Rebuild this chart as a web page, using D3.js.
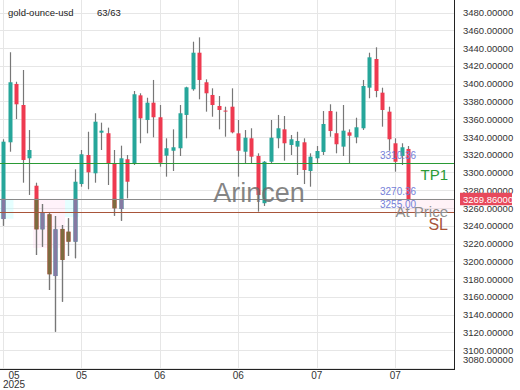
<!DOCTYPE html>
<html>
<head>
<meta charset="utf-8">
<script src="https://cdn.jsdelivr.net/npm/d3@7"></script>
<style>
body { margin: 0; background: #fff; }
text { font-family: "Liberation Sans", Arial, sans-serif; }
</style>
</head>
<body>
<div id="chart"></div>
<script>
// daily candles, gold-ounce-usd
var opens  = [3247.6,3334.0,3399.7,3376.0,3316.0,3285.1,3236.0,3252.9,3183.4,3236.4,
              3233.3,3222.1,3287.0,3319.7,3299.1,3344.8,3344.2,3309.6,3258.9,3314.9,
              3310.4,3386.9,3359.1,3378.6,3362.2,3318.9,3324.5,3327.3,3364.8,3393.7,
              3434.9,3401.6,3387.3,3374.9,3369.7,3374.1,3344.1,3323.4,3338.5,3318.6,
              3265.4,3312.1,3338.5,3348.6,3331.0,3329.1,3334.0,3301.7,3316.0,3323.1,
              3369.2,3344.2,3329.1,3345.2,3339.6,3349.8,3395.5,3427.8,3389.9,3368.5,
              3332.9,3318.6,3326.5];
var highs  = [3337.4,3435.4,3402.2,3415.4,3347.8,3288.5,3264.5,3254.1,3251.0,3240.9,
              3248.4,3303.6,3325.3,3345.9,3366.7,3356.1,3350.5,3325.3,3330.2,3319.7,
              3391.8,3389.2,3384.2,3404.2,3376.0,3338.5,3348.6,3376.0,3396.6,3447.3,
              3452.2,3404.9,3394.8,3386.1,3374.1,3394.8,3359.1,3347.8,3349.8,3321.6,
              3312.9,3359.1,3364.8,3363.6,3342.2,3345.9,3338.5,3321.6,3329.8,3369.2,
              3376.8,3368.5,3376.0,3348.6,3361.7,3404.2,3434.9,3441.0,3395.5,3374.1,
              3338.5,3332.9,3329.8];
var lows   = [3240.1,3323.4,3360.2,3288.5,3274.7,3207.1,3216.4,3167.7,3120.7,3154.5,
              3206.0,3203.4,3284.0,3281.1,3288.5,3325.3,3285.9,3251.3,3245.7,3270.9,
              3308.4,3332.9,3344.1,3339.6,3306.5,3295.3,3301.7,3318.6,3338.5,3392.1,
              3382.4,3368.5,3362.8,3348.6,3340.3,3344.1,3295.3,3310.4,3309.6,3255.9,
              3262.3,3310.4,3327.3,3313.3,3319.7,3297.2,3287.0,3284.0,3310.4,3319.7,
              3340.3,3321.6,3318.6,3309.6,3332.9,3347.9,3383.6,3384.7,3351.6,3324.5,
              3300.9,3308.4,3268.0];
var closes = [3334.7,3401.6,3376.8,3314.1,3325.3,3236.0,3254.7,3185.4,3236.0,3201.5,
              3222.1,3289.6,3320.5,3300.2,3357.2,3347.1,3309.6,3259.7,3316.0,3289.6,
              3388.1,3361.0,3378.6,3362.2,3311.0,3327.3,3328.4,3366.7,3395.9,3434.9,
              3404.2,3389.2,3376.0,3370.4,3369.0,3345.2,3324.5,3339.2,3317.8,3274.7,
              3312.1,3339.2,3349.8,3332.9,3337.4,3335.5,3302.8,3317.8,3324.2,3354.6,
              3346.7,3331.8,3347.1,3341.4,3350.9,3397.4,3429.7,3391.8,3370.4,3337.4,
              3312.1,3328.4,3269.86];

var priceTicks = d3.range(3080, 3481, 20);
var monthTickIdx = [0, 12, 24, 36, 48, 60];
var monthTickLabels = ["05", "05", "06", "06", "07", "07"];
var yearLabel = "2025";

var levelValues = [3310.36, 3270.36, 3255.00];
var levelNames  = ["TP1", "At Price", "SL"];
var levelColors = ["#2a9a35", "#8a8a8a", "#a8553a"];
var lastPrice = 3269.86;

var W = 520, H = 390, plotW = 455, plotH = 369;
var upColor = "#26a69a", downColor = "#ee3a50";
var upMuted = "#857aa3", downMuted = "#7d6b3e";

var svg = d3.select("#chart").append("svg")
    .attr("width", W).attr("height", H);

var x = d3.scaleLinear().domain([0, 62]).range([3, 408.3]);
var y = d3.scaleLinear().domain([3078.7, 3494.25]).range([plotH, 0]);

// grid
svg.append("g").selectAll("line.h")
    .data(priceTicks).enter().append("line")
    .attr("x1", 0).attr("x2", plotW)
    .attr("y1", function(d) { return Math.round(y(d)) + 0.5; })
    .attr("y2", function(d) { return Math.round(y(d)) + 0.5; })
    .attr("stroke", "#e6e6e6");
svg.append("g").selectAll("line.v")
    .data(monthTickIdx).enter().append("line")
    .attr("y1", 0).attr("y2", plotH)
    .attr("x1", function(d) { return Math.round(x(d)) + 0.5; })
    .attr("x2", function(d) { return Math.round(x(d)) + 0.5; })
    .attr("stroke", "#e6e6e6");

// faint zones near the entry level
var zones = [
  {i0: -0.5, i1: 1.6, p0: 3248, p1: 3270.36, c: "rgba(180,255,255,0.35)"},
  {i0: 4.6, i1: 9.5, p0: 3215, p1: 3270.36, c: "rgba(255,205,235,0.25)"},
  {i0: 9.5, i1: 11.6, p0: 3250, p1: 3270.36, c: "rgba(180,255,255,0.35)"},
  {i0: 60.5, i1: 70, p0: 3255, p1: 3270.36, c: "rgba(255,205,225,0.25)"}
];
svg.append("g").selectAll("rect")
    .data(zones).enter().append("rect")
    .attr("x", function(d) { return Math.max(0, x(d.i0)); })
    .attr("width", function(d) { return Math.min(plotW, x(d.i1)) - Math.max(0, x(d.i0)); })
    .attr("y", function(d) { return y(d.p1); })
    .attr("height", function(d) { return y(d.p0) - y(d.p1); })
    .attr("fill", function(d) { return d.c; });

var candles = opens.map(function(o, i) {
  return {i: i, o: o, h: highs[i], l: lows[i], c: closes[i]};
});
var bw = 4;

function drawCandles(g, up, down) {
  g.selectAll("line")
      .data(candles).enter().append("line")
      .attr("x1", function(d) { return Math.round(x(d.i)) + 0.5; })
      .attr("x2", function(d) { return Math.round(x(d.i)) + 0.5; })
      .attr("y1", function(d) { return y(d.h); })
      .attr("y2", function(d) { return y(d.l); })
      .attr("stroke", "#777").attr("stroke-width", 1.2);
  g.selectAll("rect")
      .data(candles).enter().append("rect")
      .attr("x", function(d) { return Math.round(x(d.i)) + 0.5 - bw / 2; })
      .attr("width", bw)
      .attr("y", function(d) { return y(Math.max(d.o, d.c)); })
      .attr("height", function(d) { return Math.max(1, Math.abs(y(d.o) - y(d.c))); })
      .attr("fill", function(d) { return d.c >= d.o ? up : down; });
}

drawCandles(svg.append("g"), upColor, downColor);

// blended part of early candles below the entry line
svg.append("clipPath").attr("id", "lowclip")
  .append("rect")
    .attr("x", 0).attr("width", x(18.5))
    .attr("y", y(levelValues[1])).attr("height", plotH - y(levelValues[1]));
drawCandles(svg.append("g").attr("clip-path", "url(#lowclip)"), upMuted, downMuted);

// levels
svg.append("g").selectAll("line")
    .data(levelValues).enter().append("line")
    .attr("x1", 0).attr("x2", plotW)
    .attr("y1", function(d) { return Math.round(y(d)) + 0.5; })
    .attr("y2", function(d) { return Math.round(y(d)) + 0.5; })
    .attr("stroke", function(d, i) { return levelColors[i]; })
    .attr("stroke-width", 1);

// watermark
svg.append("text")
    .attr("x", 259).attr("y", 202)
    .attr("text-anchor", "middle")
    .attr("font-size", 27)
    .attr("fill", "#6f6f6f")
    .attr("fill-opacity", 0.85)
    .text("Arincen");

// value tags for the levels
svg.append("g").selectAll("text")
    .data(levelValues).enter().append("text")
    .attr("x", 380)
    .attr("y", function(d) { return y(d) - 4; })
    .attr("font-size", 10)
    .attr("fill", "#7480d8")
    .text(function(d) { return d.toFixed(2); });

// level names
var nameDy = [17, 18, 18];
svg.append("g").selectAll("text")
    .data(levelValues).enter().append("text")
    .attr("x", 448)
    .attr("y", function(d, i) { return y(d) + nameDy[i]; })
    .attr("text-anchor", "end")
    .attr("font-size", function(d, i) { return i == 2 ? 16 : 15; })
    .attr("fill", function(d, i) { return i == 1 ? "#8f8f8f" : levelColors[i]; })
    .text(function(d, i) { return levelNames[i]; });

// price axis
var yAxis = d3.axisRight(y)
    .tickValues(priceTicks)
    .tickFormat(d3.format(".5f"))
    .tickSize(0)
    .tickPadding(8);
var ya = svg.append("g")
    .attr("transform", "translate(" + plotW + ",0)")
    .call(yAxis);
ya.select(".domain").remove();
ya.selectAll("text").attr("font-size", 9.5).attr("fill", "#333")
    .style("font-family", "'Liberation Sans', Arial, sans-serif");
ya.selectAll(".tick").filter(function(d) { return y(d) > 361; })
    .attr("transform", "translate(0,360)");

// last price tag
var lp = svg.append("g").attr("transform", "translate(0," + y(lastPrice) + ")");
lp.append("rect")
    .attr("x", 460).attr("y", -6.5).attr("width", 52).attr("height", 12.5)
    .attr("fill", "#e8495c");
lp.append("text")
    .attr("x", 463).attr("y", 3.5)
    .attr("font-size", 9.5).attr("fill", "#fff")
    .text(d3.format(".5f")(lastPrice));

// frame
svg.append("line").attr("x1", plotW - 0.5).attr("x2", plotW - 0.5)
    .attr("y1", 0).attr("y2", plotH + 0.5).attr("stroke", "#222");
svg.append("line").attr("x1", 0).attr("x2", plotW)
    .attr("y1", plotH + 0.5).attr("y2", plotH + 0.5).attr("stroke", "#222");

// time labels
svg.append("g").selectAll("text")
    .data(monthTickIdx).enter().append("text")
    .attr("x", function(d) { return Math.max(x(d), 14); })
    .attr("y", 379)
    .attr("text-anchor", "middle")
    .attr("font-size", 10).attr("fill", "#333")
    .text(function(d, i) { return monthTickLabels[i]; });
svg.append("text")
    .attr("x", 14).attr("y", 388)
    .attr("text-anchor", "middle")
    .attr("font-size", 10).attr("fill", "#333")
    .text(yearLabel);

// title
svg.append("text").attr("x", 8).attr("y", 15.5)
    .attr("font-size", 9.5).attr("fill", "#222").text("gold-ounce-usd");
svg.append("text").attr("x", 97).attr("y", 15.5)
    .attr("font-size", 9.5).attr("fill", "#222").text("63/63");
</script>
</body>
</html>
